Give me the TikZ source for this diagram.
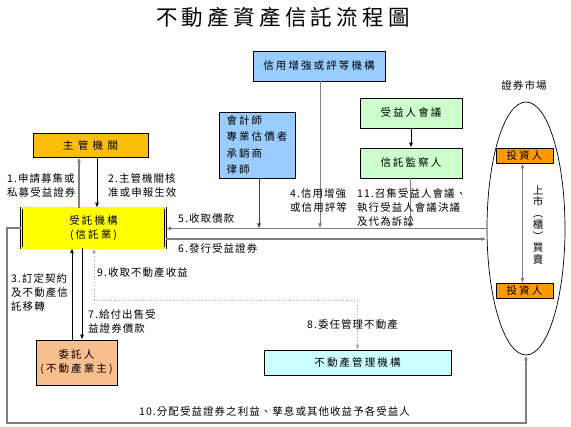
\documentclass[tikz,border=0pt]{standalone}
\usepackage{fontspec}
\newfontfamily\tcfont[LetterSpace=20]{Noto Sans CJK TC}
\newfontfamily\tclbl[LetterSpace=10]{Noto Sans CJK TC}
\usetikzlibrary{arrows.meta,calc,positioning,shapes.geometric}
\definecolor{govgold}{RGB}{250,190,10}
\definecolor{trustyellow}{RGB}{255,255,0}
\definecolor{creditblue}{RGB}{153,204,255}
\definecolor{meetgreen}{RGB}{204,255,204}
\definecolor{ownerpeach}{RGB}{250,191,143}
\definecolor{mgmtcyan}{RGB}{204,255,255}
\definecolor{invorange}{RGB}{255,153,0}
\definecolor{flowgray}{RGB}{128,128,128}

\begin{document}
\begin{tikzpicture}[x=1pt,y=-1pt,>={Latex[length=5pt,width=4pt]}]
  \tikzstyle{box}=[draw,line width=0.7pt,inner sep=0pt,align=center,font=\tcfont\fontsize{10.5}{14}\selectfont]
  \tikzstyle{lbl}=[inner sep=0pt,anchor=north west,align=left,font=\tclbl\fontsize{10.5}{14}\selectfont]
  \tikzstyle{gflow}=[draw=flowgray,line width=1.4pt]
  \tikzstyle{kflow}=[draw=black,line width=0.8pt]
  \useasboundingbox (0,0) rectangle (571,427);

  \node[font=\tcfont\fontsize{21.5}{26}\selectfont] (title) at (283,17) {不動產資產信託流程圖};

  % boxes
  \node[box,fill=govgold,minimum width=115pt,minimum height=24pt] (zg) at (90.5,145) {主 管 機 關};
  \node[box,fill=trustyellow,double=trustyellow,double distance=1.4pt,line width=0.5pt,minimum width=144pt,minimum height=40pt] (st) at (93.5,228) {受託機構\\(信託業)};
  \node[box,fill=creditblue,minimum width=132pt,minimum height=30pt] (xy) at (319,66) {信用增強或評等機構};
  \node[box,fill=creditblue,minimum width=76pt,minimum height=66pt,align=left,font=\tcfont\fontsize{10.5}{16.5}\selectfont] (kj) at (257,145) {會計師\\專業估價者\\承銷商\\律師};
  \node[box,fill=meetgreen,minimum width=102pt,minimum height=30pt] (sy) at (411,113) {受益人會議};
  \node[box,fill=meetgreen,minimum width=102pt,minimum height=30pt] (jc) at (411,163) {信託監察人};
  \node[box,fill=ownerpeach,minimum width=81pt,minimum height=45pt] (wt) at (76.5,362.5) {委託人\\(不動產業主)};
  \node[box,fill=mgmtcyan,minimum width=187pt,minimum height=25pt] (gl) at (357.5,362.5) {不動產管理機構};

  % securities market
  \node[draw,ellipse,line width=0.7pt,minimum width=78pt,minimum height=253pt] (mkt) at (526,228.5) {};
  \node[lbl,anchor=center] (mktname) at (524,85) {證券市場};
  \node[box,fill=invorange,minimum width=57pt,minimum height=15pt] (inv1) at (524.5,155.5) {投資人};
  \node[box,fill=invorange,minimum width=57pt,minimum height=15pt] (inv2) at (524.5,291) {投資人};
  \draw[gflow,<->] ([xshift=-2pt]inv1.south) -- ([xshift=-2pt]inv2.north);
  \node[inner sep=0pt,align=center,font=\tclbl\fontsize{10.5}{11.5}\selectfont] (trade) at (538,225) {上\\市\\︵\\櫃\\︶\\買\\賣};

  % flows
  \draw[gflow,->] ([xshift=-14.5pt]st.north) -- ([xshift=-14.5pt]st.north |- zg.south);
  \draw[kflow,->] ([xshift=3.5pt]st.north |- zg.south) -- ([xshift=3.5pt]st.north);
  \node[lbl] (l1) at (7,173) {1.申請募集或\\私募受益證券};
  \node[lbl] (l2) at (108,173) {2.主管機關核\\准或申報生效};

  \draw[gflow,->] (mkt.west) -- (mkt.west -| st.east);
  \draw[gflow,->] ([yshift=-11pt]st.east) -- ([yshift=-11pt]st.east -| mkt.west);
  \node[lbl] (l5) at (178,213) {5.收取價款};
  \node[lbl] (l6) at (178,243) {6.發行受益證券};

  \draw[kflow,draw=black!75,->] ([xshift=2pt]kj.south) -- ([xshift=2pt]kj.south |- mkt.west);
  \draw[gflow,line width=1pt,->] ([xshift=1pt]xy.south) -- ([xshift=1pt]xy.south |- mkt.west);
  \draw[kflow,->] (sy.south) -- (jc.north);
  \draw[gflow,line width=1pt,->] ([xshift=-1pt]jc.south) -- ([xshift=-1pt]jc.south |- mkt.west);
  \node[lbl] (l4) at (290,188) {4.信用增強\\或信用評等};
  \node[lbl] (l11) at (357,188) {11.召集受益人會議、\\執行受益人會議決議\\及代為訴訟};

  \draw[kflow,->] ([xshift=-4.5pt]wt.north) -- ([xshift=-4.5pt]wt.north |- st.south);
  \draw[kflow,->] ([xshift=5.5pt]wt.north |- st.south) -- ([xshift=5.5pt]wt.north);
  \node[lbl] (l3) at (11,273) {3.訂定契約\\及不動產信\\託移轉};
  \node[lbl] (l7) at (88,309) {7.給付出售受\\益證券價款};

  \coordinate (dot9) at (200,300);
  \draw[draw=flowgray!70,line width=0.9pt,dotted,<->] ([xshift=0.5pt]st.south) -- ([xshift=0.5pt]st.south |- dot9) -| (gl.north);
  \node[lbl] (l9) at (97,267) {9.收取不動產收益};
  \node[lbl] (l8) at (307,319) {8.委任管理不動產};

  \coordinate (c10) at (7,423);
  \draw[gflow,->] (st.west) -| (c10) -| (mkt.south);
  \node[lbl] (l10) at (139,406) {10.分配受益證券之利益、孳息或其他收益予各受益人};
\end{tikzpicture}
\end{document}
